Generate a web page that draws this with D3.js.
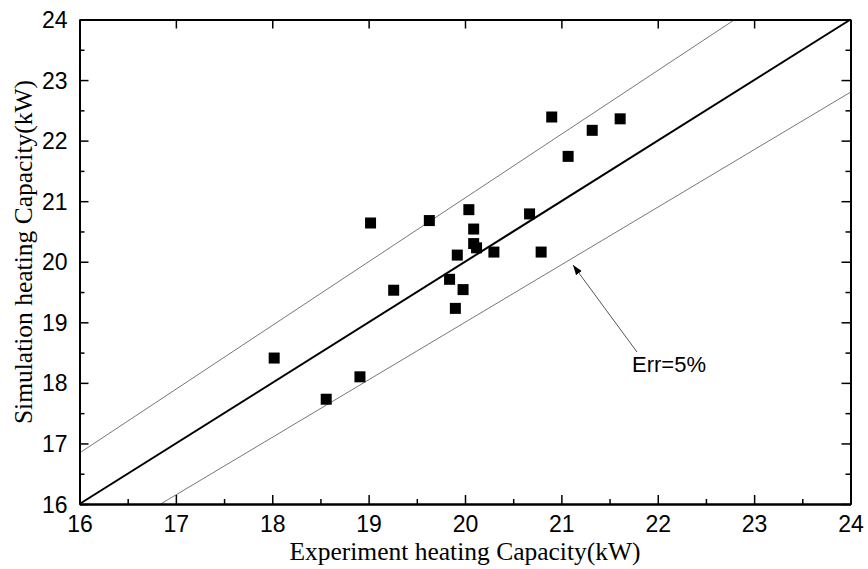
<!DOCTYPE html>
<html><head><meta charset="utf-8">
<script src="https://cdn.jsdelivr.net/npm/d3@7"></script>
<style>body{margin:0;background:#fff;} svg{display:block;}</style>
</head><body>
<svg id="chart" width="868" height="569"></svg>
<script>
const experiment = [19.02,19.63,20.04,20.09,20.67,20.09,20.12,20.30,20.79,19.92,19.84,19.26,19.98,19.90,18.02,18.91,18.56,20.90,21.32,21.61,21.07];
const simulation = [20.64,20.68,20.86,20.54,20.79,20.30,20.23,20.16,20.16,20.11,19.71,19.53,19.54,19.23,18.41,18.10,17.73,22.39,22.17,22.36,21.74];
const tickValues = [16,17,18,19,20,21,22,23,24];
const minorTicks = [16.5,17.5,18.5,19.5,20.5,21.5,22.5,23.5];
const errLow = 0.95, errHigh = 1/0.95;
const xTitle = "Experiment heating Capacity(kW)";
const yTitle = "Simulation heating Capacity(kW)";
const annotation = "Err=5%";

const svg = d3.select("#chart");
const L=79.5, R=850.5, T=19.5, B=504;
const x = d3.scaleLinear().domain([16,24]).range([L,R]);
const y = d3.scaleLinear().domain([16,24]).range([B,T]);

const g = svg.append("g");
const line = d3.line().x(d=>x(d[0])).y(d=>y(d[1]));
g.append("path").attr("d", line([[16,16],[24,24]])).attr("stroke","#000").attr("stroke-width",2).attr("fill","none");
g.append("path").attr("d", line([[16,16*errHigh],[24/errHigh,24]])).attr("stroke","#777").attr("stroke-width",1).attr("fill","none");
g.append("path").attr("d", line([[16/errLow,16],[24,24*errLow]])).attr("stroke","#777").attr("stroke-width",1).attr("fill","none");

const s = 11;
g.selectAll("rect.pt").data(experiment).join("rect").attr("class","pt")
 .attr("x",(d,i)=>x(d)-s/2).attr("y",(d,i)=>y(simulation[i])-s/2)
 .attr("width",s).attr("height",s).attr("fill","#000");

const font = "Liberation Sans, Arial, sans-serif";
function styleAxis(sel){ sel.select(".domain").attr("stroke","#000").attr("stroke-width",2); sel.selectAll(".tick line").attr("stroke","#000").attr("stroke-width",1.5); sel.selectAll("text").attr("font-family",font).attr("font-size",23).attr("fill","#000"); }
const axB = svg.append("g").attr("transform",`translate(0,${B})`).call(d3.axisBottom(x).tickValues(tickValues).tickSize(-9).tickSizeOuter(0).tickPadding(12).tickFormat(d3.format("d")));
const axBm = svg.append("g").attr("transform",`translate(0,${B})`).call(d3.axisBottom(x).tickValues(minorTicks).tickSize(-5).tickSizeOuter(0).tickFormat(""));
const axL = svg.append("g").attr("transform",`translate(${L},0)`).call(d3.axisLeft(y).tickValues(tickValues).tickSize(-9).tickSizeOuter(0).tickPadding(12).tickFormat(d3.format("d")));
const axLm = svg.append("g").attr("transform",`translate(${L},0)`).call(d3.axisLeft(y).tickValues(minorTicks).tickSize(-5).tickSizeOuter(0).tickFormat(""));
const axT = svg.append("g").attr("transform",`translate(0,${T})`).call(d3.axisTop(x).tickValues(tickValues).tickSize(-9).tickSizeOuter(0).tickFormat(""));
const axR = svg.append("g").attr("transform",`translate(${R},0)`).call(d3.axisRight(y).tickValues(tickValues).tickSize(-9).tickSizeOuter(0).tickFormat(""));
const axRm = svg.append("g").attr("transform",`translate(${R},0)`).call(d3.axisRight(y).tickValues(minorTicks).tickSize(-5).tickSizeOuter(0).tickFormat(""));
[axB,axBm,axL,axLm,axT,axR,axRm].forEach(styleAxis);
axL.selectAll("text").attr("dy","0.35em");
axB.selectAll("text").attr("dy","0.71em");

const serif = "Liberation Serif, Times New Roman, serif";
svg.append("text").attr("x",465).attr("y",560).attr("text-anchor","middle")
 .attr("font-family",serif).attr("font-size",25.5).attr("fill","#000").text(xTitle);
svg.append("text").attr("transform",`translate(32,252) rotate(-90)`).attr("text-anchor","middle")
 .attr("font-family",serif).attr("font-size",25.5).attr("fill","#000").text(yTitle);

svg.append("defs").append("marker").attr("id","arr").attr("viewBox","0 0 10 10").attr("refX",10).attr("refY",5)
 .attr("markerWidth",10).attr("markerHeight",10).attr("markerUnits","userSpaceOnUse").attr("orient","auto")
 .append("path").attr("d","M0,1.5 L10,5 L0,8.5 Z").attr("fill","#000");
svg.append("line").attr("x1",637).attr("y1",352).attr("x2",573).attr("y2",265)
 .attr("stroke","#555").attr("stroke-width",1).attr("marker-end","url(#arr)");
svg.append("text").attr("x",632).attr("y",372).attr("font-family",font).attr("font-size",22).attr("fill","#000").text(annotation);
</script>
</body></html>
